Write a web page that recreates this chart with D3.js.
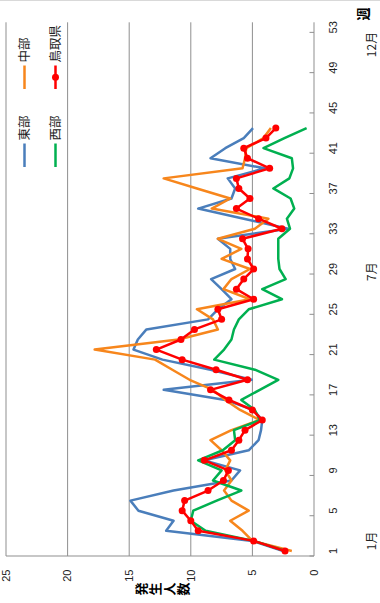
<!DOCTYPE html>
<html><head><meta charset="utf-8">
<script src="https://cdn.jsdelivr.net/npm/d3@7"></script>
<style>
html,body{margin:0;padding:0;background:#fff;}
svg{display:block;font-family:"Liberation Sans","Noto Sans CJK JP",sans-serif;}
</style></head><body>
<svg id="chart" width="380" height="603"></svg>
<script>
// weekly counts by area (weeks 1..43 reported)
const weeks = d3.range(1, 54);
const weekTickLabels = [1, 5, 9, 13, 17, 21, 25, 29, 33, 37, 41, 45, 49, 53];
const valueTicks = [0, 5, 10, 15, 20, 25];
const seriesNames = ["東部", "中部", "西部", "鳥取県"];
const seriesColors = ["#4A7EBB", "#F7861C", "#00B050", "#FF0000"];
const eastValues = [2.5,5.0,12.0,11.4,14.25,14.9,11.4,6.7,6.0,8.9, 5.3,4.5,4.3,4.2,4.9,7.2,12.2,5.05,8.4,12.3, 14.65,14.3,13.6,8.6,7.8,6.7,7.5,8.35,6.4,6.8, 6.8,7.8,2.1,5.7,9.4,6.7,6.4,7.0,4.0,8.4, 7.2,5.7,4.95];
const centralValues = [1.8,5.0,5.8,6.8,5.3,6.7,7.3,6.7,7.2,6.8, 7.5,8.4,6.7,4.4,6.0,7.2,8.2,10.1,11.5,12.9, 17.8,11.0,7.8,8.2,9.5,5.2,7.35,6.7,5.2,7.5, 5.9,7.8,4.8,3.7,8.3,6.8,9.5,12.2,5.8,5.6, 5.5,4.1,3.5];
const westValues = [2.3,4.9,8.8,10.0,9.8,7.9,5.9,8.2,7.5,9.4, 7.4,6.4,6.5,4.4,4.8,5.9,4.4,2.9,4.8,8.1, 7.3,6.7,6.5,6.1,5.3,2.6,4.2,2.3,2.8,2.9, 2.9,2.9,1.95,2.2,1.6,1.9,3.3,2.0,1.7,1.8, 4.1,2.4,0.6];
const prefValues = [2.35,4.9,9.4,10.0,10.7,10.5,8.6,7.35,6.95,8.9, 6.7,6.1,5.6,4.2,5.0,6.9,8.4,5.4,7.95,10.7, 12.8,10.8,9.7,7.5,7.8,4.9,6.3,5.7,4.9,5.4, 5.35,5.8,2.6,4.5,6.3,5.2,6.1,6.3,3.6,5.4, 5.7,3.9,3.1];
const monthLabels = ["1月", "7月", "12月"];
const monthWeeks = [2, 28.75, 51.3];
const valueTitle = "発生人数";
const weekTitle = "週";

const allSeries = [eastValues, centralValues, westValues, prefValues];

// chart is built in its own frame (weeks across, counts upward), then turned a quarter-turn
const FW = 603, FH = 380;
const svg = d3.select("#chart");
const g = svg.append("g").attr("transform", `translate(0,${FW}) rotate(-90)`);

const plotL = 47, plotR = 580.7, plotT = 6, plotB = 314;
const x = d3.scaleBand().domain(weeks).range([plotL, plotR]).paddingInner(0).paddingOuter(0);
const bw = x.bandwidth();
const xw = d3.scaleLinear().domain([0.5, 53.5]).range([plotL, plotR]);
const y = d3.scaleLinear().domain([0, 25]).range([plotB, plotT]);

const gridColor = "#8f8f8f";

// chart border edge
g.append("line").attr("x1", 602.5).attr("x2", 602.5).attr("y1", 0).attr("y2", FH)
  .attr("stroke", "#d9d9d9").attr("stroke-width", 1);

// horizontal gridlines
g.selectAll("line.grid").data(valueTicks.filter(v => v > 0)).join("line")
  .attr("class", "grid")
  .attr("x1", plotL).attr("x2", plotR)
  .attr("y1", d => y(d)).attr("y2", d => y(d))
  .attr("stroke", gridColor).attr("stroke-width", 1);

// category axis line
g.append("line").attr("x1", plotL).attr("x2", plotR).attr("y1", y(0)).attr("y2", y(0))
  .attr("stroke", gridColor).attr("stroke-width", 1);
// value axis line
g.append("line").attr("x1", plotL).attr("x2", plotL).attr("y1", plotT).attr("y2", plotB)
  .attr("stroke", gridColor).attr("stroke-width", 1);

// tick marks between categories, every 4 weeks
const tickBounds = d3.range(0, 53, 4);
g.selectAll("line.wtick").data(tickBounds).join("line")
  .attr("class", "wtick")
  .attr("x1", d => plotL + d * bw).attr("x2", d => plotL + d * bw)
  .attr("y1", y(0)).attr("y2", y(0) - 4.5)
  .attr("stroke", gridColor).attr("stroke-width", 1);

// week labels
g.selectAll("text.wlab").data(weekTickLabels).join("text")
  .attr("class", "wlab")
  .attr("x", d => x(d) + bw / 2).attr("y", 337)
  .attr("text-anchor", "middle").attr("font-size", 11).attr("fill", "#222")
  .text(d => d);

// value labels
g.selectAll("text.vlab").data(valueTicks).join("text")
  .attr("class", "vlab")
  .attr("x", 33.5).attr("y", d => y(d)).attr("dy", "0.35em")
  .attr("text-anchor", "end").attr("font-size", 11).attr("fill", "#222")
  .text(d => d);

// month labels
g.selectAll("text.mlab").data(monthLabels).join("text")
  .attr("class", "mlab")
  .attr("x", (d, i) => xw(monthWeeks[i])).attr("y", 375.5)
  .attr("text-anchor", "middle").attr("font-size", 12).attr("fill", "#222")
  .attr("font-family", "'Noto Sans CJK JP', sans-serif")
  .text(d => d);

// axis titles
g.append("text").attr("x", 589).attr("y", 368)
  .attr("text-anchor", "middle").attr("font-size", 13).attr("font-weight", "bold")
  .attr("font-family", "'Noto Sans CJK JP', sans-serif")
  .text(weekTitle);

g.selectAll("text.vtitle").data(Array.from(valueTitle)).join("text")
  .attr("class", "vtitle")
  .attr("x", 14).attr("y", (d, i) => 141.5 + i * 14).attr("dy", "0.38em")
  .attr("text-anchor", "middle").attr("font-size", 13).attr("font-weight", "bold")
  .attr("font-family", "'Noto Sans CJK JP', sans-serif")
  .text(d => d);

// series lines
const line = d3.line()
  .x((d, i) => x(weeks[i]) + bw / 2)
  .y(d => y(d));

allSeries.forEach((vals, si) => {
  g.append("path").datum(vals)
    .attr("fill", "none")
    .attr("stroke", seriesColors[si])
    .attr("stroke-width", 2.5)
    .attr("stroke-linejoin", "round")
    .attr("d", line);
});

// markers on the prefecture total
g.selectAll("circle.pt").data(prefValues).join("circle")
  .attr("class", "pt")
  .attr("cx", (d, i) => x(weeks[i]) + bw / 2)
  .attr("cy", d => y(d))
  .attr("r", 3.5)
  .attr("fill", seriesColors[3]);

// legend (2 x 2)
const legendPos = [
  { u: 436, v: 24.5 }, { u: 514, v: 24.5 },
  { u: 436, v: 55.5 }, { u: 514, v: 55.5 }
];
seriesNames.forEach((name, i) => {
  const p = legendPos[i];
  const lg = g.append("g");
  lg.append("line").attr("x1", p.u).attr("x2", p.u + 23.5)
    .attr("y1", p.v).attr("y2", p.v)
    .attr("stroke", seriesColors[i]).attr("stroke-width", 2.5);
  if (i === 3) {
    lg.append("circle").attr("cx", p.u + 11.75).attr("cy", p.v).attr("r", 3.5)
      .attr("fill", seriesColors[i]);
  }
  lg.append("text").attr("x", p.u + 26.5).attr("y", p.v).attr("dy", "0.36em")
    .attr("font-size", 12.5).attr("fill", "#222")
    .attr("font-family", "'Noto Sans CJK JP', sans-serif")
    .text(name);
});
</script>
</body></html>
